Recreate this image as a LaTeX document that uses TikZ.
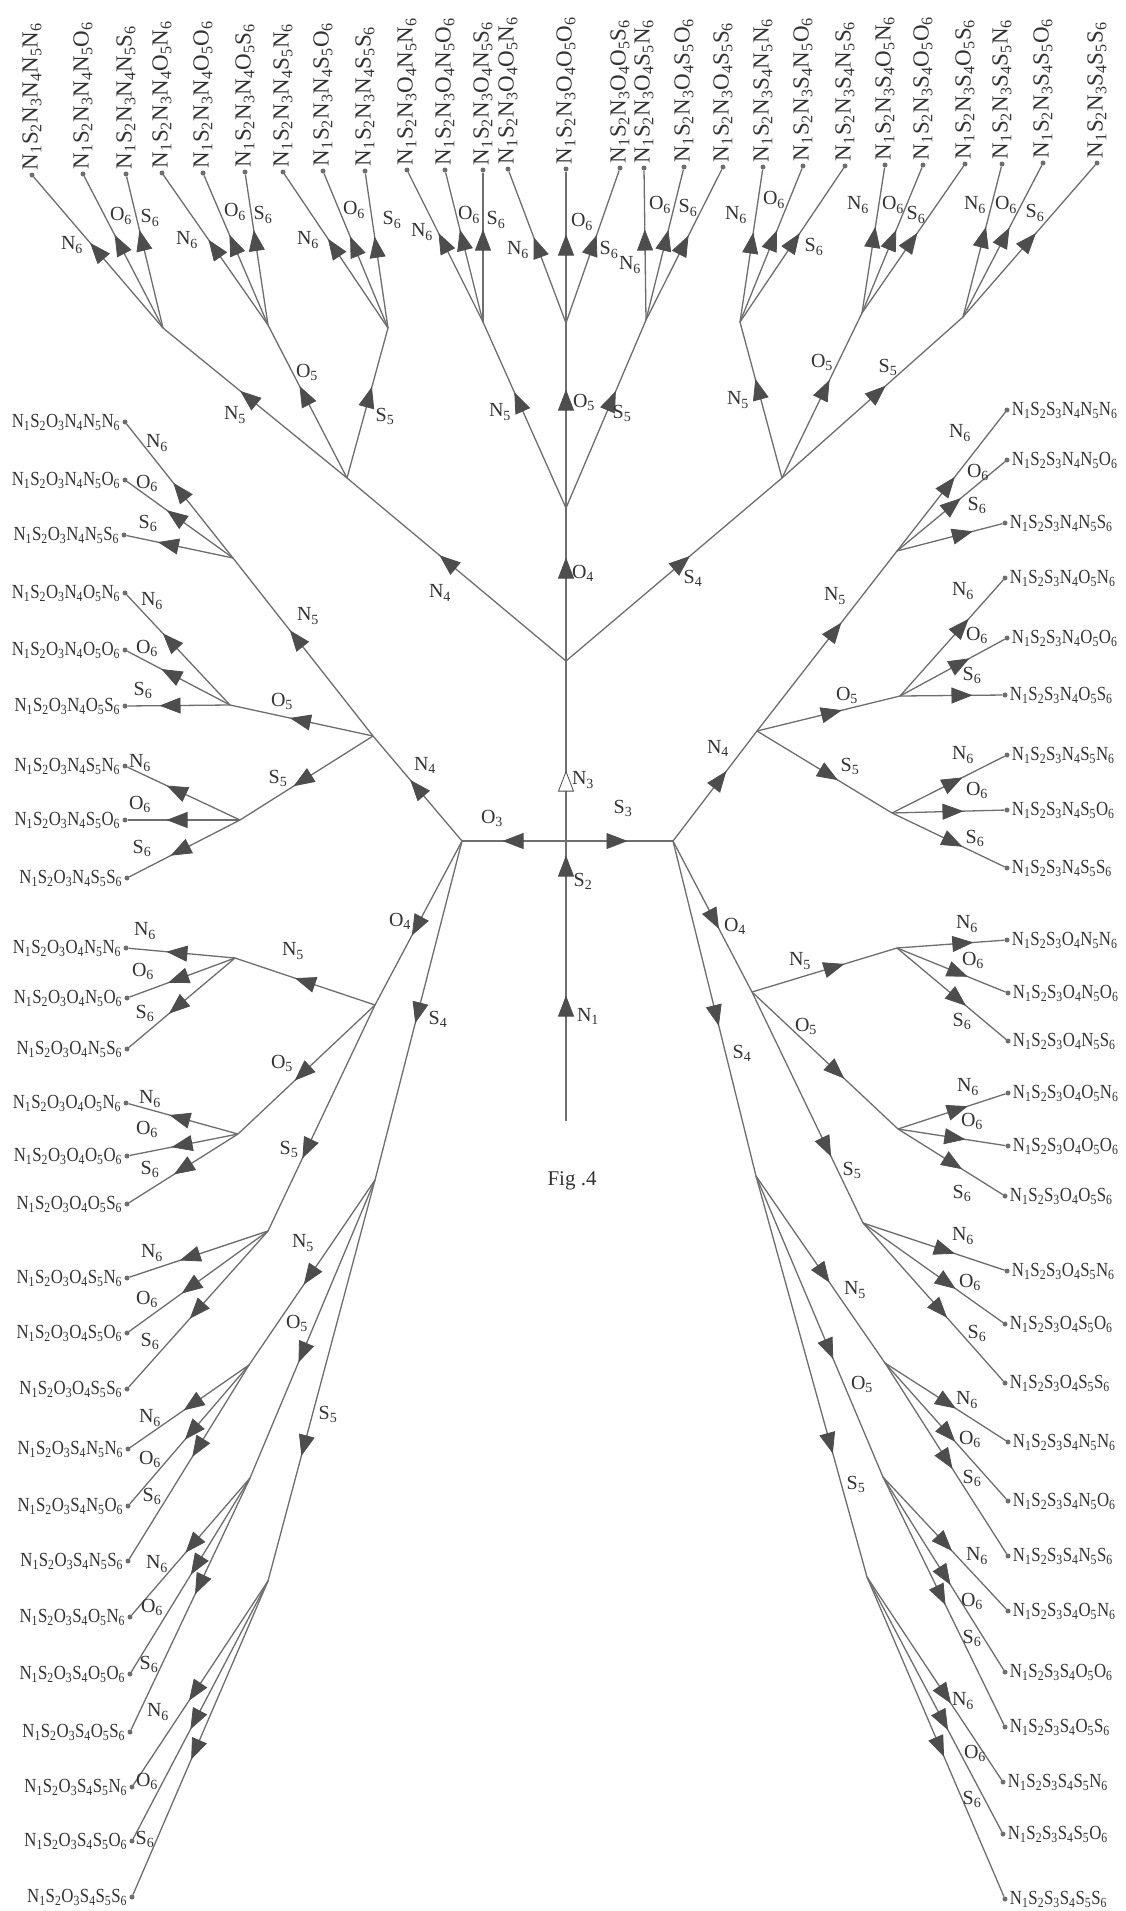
\documentclass[tikz,border=0pt]{standalone}
\usepackage{fontspec}
\setmainfont{Liberation Serif}
\newfontfamily\condfont[FakeStretch=0.84]{Liberation Serif}
\usetikzlibrary{calc,arrows.meta}
\definecolor{linecol}{HTML}{6E6E6E}
\definecolor{arrcol}{HTML}{4D4D4D}
\definecolor{txtcol}{HTML}{333333}
\pgfdeclarelayer{bgfill}
\pgfdeclarelayer{bg}
\pgfsetlayers{bgfill,bg,main}
\newcounter{elb}
\newcommand\seqlab[4]{N\textsubscript{1}S\textsubscript{2}#1\textsubscript{3}#2\textsubscript{4}#3\textsubscript{5}#4\textsubscript{6}}
\newcommand\edg[7][]{%
  \begin{pgfonlayer}{bg}\draw[conn] (#2) -- (#3);\end{pgfonlayer}
  \coordinate (ap) at ($(#2)!(#4)!(#3)$);
  \draw[arrowmark, -{Triangle[length=21pt,width=16pt,#1]}] ($(ap)!10.5pt!(#2)$) -- ($(ap)!-10.5pt!(#2)$);
  \stepcounter{elb}%
  \node[elab] (elab\theelb) at (#7) {#5\textsubscript{#6}};
}
\newcommand\leafT[3]{\node[leafdot] (#1) at (#2) {}; \node[tlab] (#1x) at (#1.north) {\seqlab{N}#3};}
\newcommand\leafL[3]{\node[leafdot] (#1) at (#2) {}; \node[llab] (#1x) at (#1.west) {\seqlab{O}#3};}
\newcommand\leafR[3]{\node[leafdot] (#1) at (#2) {}; \node[rlab] (#1x) at (#1.east) {\seqlab{S}#3};}
\begin{document}
\begin{tikzpicture}[x=1pt,y=-1pt,
  conn/.style={draw=linecol, line width=1.3pt},
  arrowmark/.style={draw=arrcol, line width=0.8pt},
  elab/.style={font=\fontsize{20}{22}\selectfont, text=txtcol, inner sep=0pt},
  leafdot/.style={circle, fill=linecol, inner sep=0pt, minimum size=5pt},
  tlab/.style={rotate=90, anchor=west, font=\fontsize{23}{25}\selectfont, text=txtcol, inner sep=2pt},
  llab/.style={anchor=east, font=\condfont\fontsize{20}{22}\selectfont, text=txtcol, inner sep=2pt},
  rlab/.style={anchor=west, font=\condfont\fontsize{20}{22}\selectfont, text=txtcol, inner sep=2pt}]
\begin{pgfonlayer}{bgfill}
\fill[white] (0,0) rectangle (1126,1911);
\end{pgfonlayer}
\useasboundingbox (0,0) rectangle (1126,1911);

% internal points
\coordinate (r0) at (566,1121);
\coordinate (n1) at (566,940);
\coordinate (cj) at (566,841);
\coordinate (T) at (566,661);
\coordinate (L) at (462,841);
\coordinate (R) at (673,841);
\coordinate (tN) at (347,478);
\coordinate (tO) at (566,508);
\coordinate (tS) at (782,478);
\coordinate (tNN) at (163,328);
\coordinate (tNO) at (268,325);
\coordinate (tNS) at (388,328);
\coordinate (tON) at (483,322);
\coordinate (tOO) at (566,323);
\coordinate (tOS) at (646,320);
\coordinate (tSN) at (740,322);
\coordinate (tSO) at (862,313);
\coordinate (tSS) at (963,317);
\coordinate (lN) at (373,736);
\coordinate (lO) at (375,1005);
\coordinate (lS) at (375,1180);
\coordinate (lNN) at (233,558);
\coordinate (lNO) at (230,705);
\coordinate (lNS) at (240,820);
\coordinate (lON) at (235,958);
\coordinate (lOO) at (238,1134);
\coordinate (lOS) at (268,1231);
\coordinate (lSN) at (249,1365);
\coordinate (lSO) at (250,1478);
\coordinate (lSS) at (268,1581);
\coordinate (rN) at (757,731);
\coordinate (rO) at (752,992);
\coordinate (rS) at (756,1176);
\coordinate (rNN) at (897,551);
\coordinate (rNO) at (900,696);
\coordinate (rNS) at (892,813);
\coordinate (rON) at (897,948);
\coordinate (rOO) at (898,1129);
\coordinate (rOS) at (863,1223);
\coordinate (rSN) at (885,1363);
\coordinate (rSO) at (883,1477);
\coordinate (rSS) at (867,1577);

% top leaves
\leafT{t1}{32,175}{NNN}
\leafT{t2}{83,174}{NNO}
\leafT{t3}{126,174}{NNS}
\leafT{t4}{162,173}{NON}
\leafT{t5}{203,173}{NOO}
\leafT{t6}{245,172}{NOS}
\leafT{t7}{283,172}{NSN}
\leafT{t8}{323,171}{NSO}
\leafT{t9}{365,171}{NSS}
\leafT{t10}{407,170}{ONN}
\leafT{t11}{445,170}{ONO}
\leafT{t12}{483,170}{ONS}
\leafT{t13}{508,169}{OON}
\leafT{t14}{566,169}{OOO}
\leafT{t15}{620,168}{OOS}
\leafT{t16}{644,168}{OSN}
\leafT{t17}{684,167}{OSO}
\leafT{t18}{723,167}{OSS}
\leafT{t19}{763,167}{SNN}
\leafT{t20}{803,166}{SNO}
\leafT{t21}{845,166}{SNS}
\leafT{t22}{885,165}{SON}
\leafT{t23}{923,165}{SOO}
\leafT{t24}{965,164}{SOS}
\leafT{t25}{1002,164}{SSN}
\leafT{t26}{1043,163}{SSO}
\leafT{t27}{1097,163}{SSS}

% left leaves
\leafL{l1}{125,422}{NNN}
\leafL{l2}{125,480}{NNO}
\leafL{l3}{124,535}{NNS}
\leafL{l4}{125,593}{NON}
\leafL{l5}{125,650}{NOO}
\leafL{l6}{125,706}{NOS}
\leafL{l7}{125,766}{NSN}
\leafL{l8}{125,820}{NSO}
\leafL{l9}{127,878}{NSS}
\leafL{l10}{126,948}{ONN}
\leafL{l11}{127,998}{ONO}
\leafL{l12}{127,1049}{ONS}
\leafL{l13}{126,1103}{OON}
\leafL{l14}{127,1156}{OOO}
\leafL{l15}{127,1204}{OOS}
\leafL{l16}{127,1278}{OSN}
\leafL{l17}{127,1333}{OSO}
\leafL{l18}{127,1389}{OSS}
\leafL{l19}{128,1449}{SNN}
\leafL{l20}{128,1506}{SNO}
\leafL{l21}{128,1561}{SNS}
\leafL{l22}{130,1617}{SON}
\leafL{l23}{130,1674}{SOO}
\leafL{l24}{130,1732}{SOS}
\leafL{l25}{132,1787}{SSN}
\leafL{l26}{132,1841}{SSO}
\leafL{l27}{132,1897}{SSS}

% right leaves
\leafR{r1}{1007,410}{NNN}
\leafR{r2}{1007,460}{NNO}
\leafR{r3}{1005,523}{NNS}
\leafR{r4}{1005,578}{NON}
\leafR{r5}{1007,638}{NOO}
\leafR{r6}{1005,695}{NOS}
\leafR{r7}{1007,755}{NSN}
\leafR{r8}{1007,810}{NSO}
\leafR{r9}{1007,868}{NSS}
\leafR{r10}{1007,940}{ONN}
\leafR{r11}{1008,993}{ONO}
\leafR{r12}{1008,1041}{ONS}
\leafR{r13}{1008,1093}{OON}
\leafR{r14}{1008,1146}{OOO}
\leafR{r15}{1005,1196}{OOS}
\leafR{r16}{1007,1271}{OSN}
\leafR{r17}{1005,1324}{OSO}
\leafR{r18}{1005,1383}{OSS}
\leafR{r19}{1008,1442}{SNN}
\leafR{r20}{1008,1501}{SNO}
\leafR{r21}{1008,1556}{SNS}
\leafR{r22}{1008,1611}{SON}
\leafR{r23}{1005,1672}{SOO}
\leafR{r24}{1005,1727}{SOS}
\leafR{r25}{1003,1782}{SSN}
\leafR{r26}{1003,1834}{SSO}
\leafR{r27}{1005,1899}{SSS}

% trunk
\edg{r0}{n1}{566,1006}{N}{1}{588,1016}
\edg{n1}{cj}{566,866}{S}{2}{583,881}
\edg[fill=white]{cj}{T}{566,781}{N}{3}{583,780}
\edg{cj}{L}{513,841}{O}{3}{492,818}
\edg{cj}{R}{617,841}{S}{3}{623,808}

% top subtree
\edg{T}{tN}{445,565}{N}{4}{440,593}
\edg{T}{tO}{566,568}{O}{4}{583,573}
\edg{T}{tS}{682,563}{S}{4}{693,578}
\edg{tN}{tNN}{248,398}{N}{5}{235,415}
\edg{tN}{tNO}{305,395}{O}{5}{307,372}
\edg{tN}{tNS}{369,397}{S}{5}{385,416}
\edg{tO}{tON}{518,402}{N}{5}{500,412}
\edg{tO}{tOO}{566,400}{O}{5}{584,402}
\edg{tO}{tOS}{610,400}{S}{5}{622,413}
\edg{tS}{tSN}{755,390}{N}{5}{738,400}
\edg{tS}{tSO}{822,388}{O}{5}{822,362}
\edg{tS}{tSS}{880,395}{S}{5}{888,367}
\edg{tNN}{t1}{98,250}{N}{6}{72,245}
\edg{tNN}{t2}{122,243}{O}{6}{121,216}
\edg{tNN}{t3}{143,240}{S}{6}{150,218}
\edg{tNO}{t4}{215,248}{N}{6}{187,240}
\edg{tNO}{t5}{237,243}{O}{6}{235,212}
\edg{tNO}{t6}{258,240}{S}{6}{263,215}
\edg{tNS}{t7}{333,248}{N}{6}{308,240}
\edg{tNS}{t8}{357,245}{O}{6}{354,210}
\edg{tNS}{t9}{377,247}{S}{6}{392,220}
\edg{tON}{t10}{444,242}{N}{6}{422,232}
\edg{tON}{t11}{462,240}{O}{6}{469,215}
\edg{tON}{t12}{483,240}{S}{6}{496,220}
\edg{tOO}{t13}{538,247}{N}{6}{518,250}
\edg{tOO}{t14}{566,245}{O}{6}{582,222}
\edg{tOO}{t15}{593,245}{S}{6}{609,250}
\edg{tOS}{t16}{645,240}{N}{6}{630,265}
\edg{tOS}{t17}{665,240}{O}{6}{660,205}
\edg{tOS}{t18}{684,245}{S}{6}{688,208}
\edg{tSN}{t19}{752,243}{N}{6}{736,215}
\edg{tSN}{t20}{773,240}{O}{6}{774,200}
\edg{tSN}{t21}{794,242}{S}{6}{814,247}
\edg{tSO}{t22}{873,237}{N}{6}{858,205}
\edg{tSO}{t23}{893,240}{O}{6}{893,205}
\edg{tSO}{t24}{912,242}{S}{6}{916,215}
\edg{tSS}{t25}{983,237}{N}{6}{975,205}
\edg{tSS}{t26}{1005,237}{O}{6}{1006,205}
\edg{tSS}{t27}{1030,242}{S}{6}{1035,213}

% left subtree
\edg{L}{lN}{417,788}{N}{4}{425,765}
\edg{L}{lO}{420,928}{O}{4}{400,921}
\edg{L}{lS}{418,1013}{S}{4}{438,1019}
\edg{lN}{lNN}{297,638}{N}{5}{308,616}
\edg{lN}{lNO}{300,721}{O}{5}{282,701}
\edg{lN}{lNS}{302,780}{S}{5}{278,778}
\edg{lO}{lON}{305,981}{N}{5}{293,951}
\edg{lO}{lOO}{303,1074}{O}{5}{282,1063}
\edg{lO}{lOS}{307,1149}{S}{5}{289,1149}
\edg{lS}{lSN}{310,1276}{N}{5}{303,1243}
\edg{lS}{lSO}{303,1353}{O}{5}{297,1323}
\edg{lS}{lSS}{305,1446}{S}{5}{328,1414}
\edg{lNN}{l1}{180,491}{N}{6}{157,443}
\edg{lNN}{l2}{175,517}{O}{6}{147,483}
\edg{lNN}{l3}{168,545}{S}{6}{148,523}
\edg{lNO}{l4}{170,641}{N}{6}{152,601}
\edg{lNO}{l5}{170,675}{O}{6}{147,648}
\edg{lNO}{l6}{170,706}{S}{6}{143,690}
\edg{lNS}{l7}{175,793}{N}{6}{140,763}
\edg{lNS}{l8}{177,820}{O}{6}{140,804}
\edg{lNS}{l9}{180,851}{S}{6}{142,848}
\edg{lON}{l10}{177,951}{N}{6}{145,931}
\edg{lON}{l11}{178,979}{O}{6}{143,971}
\edg{lON}{l12}{178,1008}{S}{6}{145,1013}
\edg{lOO}{l13}{180,1116}{N}{6}{150,1099}
\edg{lOO}{l14}{182,1146}{O}{6}{147,1129}
\edg{lOO}{l15}{183,1169}{S}{6}{150,1169}
\edg{lOS}{l16}{190,1258}{N}{6}{152,1253}
\edg{lOS}{l17}{190,1287}{O}{6}{147,1299}
\edg{lOS}{l18}{197,1311}{S}{6}{150,1341}
\edg{lSN}{l19}{192,1404}{N}{6}{150,1418}
\edg{lSN}{l20}{191,1431}{O}{6}{150,1459}
\edg{lSN}{l21}{198,1448}{S}{6}{152,1496}
\edg{lSO}{l22}{195,1547}{N}{6}{157,1564}
\edg{lSO}{l23}{197,1566}{O}{6}{152,1607}
\edg{lSO}{l24}{200,1585}{S}{6}{149,1664}
\edg{lSS}{l25}{195,1692}{N}{6}{158,1712}
\edg{lSS}{l26}{197,1721}{O}{6}{147,1781}
\edg{lSS}{l27}{198,1751}{S}{6}{145,1839}

% right subtree
\edg{R}{rN}{718,778}{N}{4}{718,748}
\edg{R}{rO}{717,918}{O}{4}{735,926}
\edg{R}{rS}{715,1016}{S}{4}{742,1053}
\edg{rN}{rNN}{835,631}{N}{5}{835,596}
\edg{rN}{rNO}{833,718}{O}{5}{847,695}
\edg{rN}{rNS}{830,773}{S}{5}{850,766}
\edg{rO}{rON}{835,969}{N}{5}{800,961}
\edg{rO}{rOO}{835,1073}{O}{5}{806,1026}
\edg{rO}{rOS}{825,1148}{S}{5}{852,1170}
\edg{rS}{rSN}{828,1271}{N}{5}{855,1290}
\edg{rS}{rSO}{830,1349}{O}{5}{862,1384}
\edg{rS}{rSS}{828,1444}{S}{5}{856,1484}
\edg{rNN}{r1}{948,485}{N}{6}{960,433}
\edg{rNN}{r2}{953,505}{O}{6}{978,472}
\edg{rNN}{r3}{963,535}{S}{6}{977,505}
\edg{rNO}{r4}{962,627}{N}{6}{963,591}
\edg{rNO}{r5}{960,663}{O}{6}{977,635}
\edg{rNO}{r6}{962,696}{S}{6}{972,675}
\edg{rNS}{r7}{953,782}{N}{6}{963,755}
\edg{rNS}{r8}{953,811}{O}{6}{977,790}
\edg{rNS}{r9}{953,842}{S}{6}{975,838}
\edg{rON}{r10}{963,945}{N}{6}{967,924}
\edg{rON}{r11}{958,973}{O}{6}{973,960}
\edg{rON}{r12}{958,999}{S}{6}{962,1021}
\edg{rOO}{r13}{958,1110}{N}{6}{968,1087}
\edg{rOO}{r14}{955,1138}{O}{6}{972,1121}
\edg{rOO}{r15}{953,1164}{S}{6}{962,1193}
\edg{rOS}{r16}{945,1250}{N}{6}{963,1236}
\edg{rOS}{r17}{947,1283}{O}{6}{970,1282}
\edg{rOS}{r18}{940,1310}{S}{6}{977,1333}
\edg{rSN}{r19}{947,1403}{N}{6}{967,1400}
\edg{rSN}{r20}{948,1434}{O}{6}{970,1439}
\edg{rSN}{r21}{947,1460}{S}{6}{972,1478}
\edg{rSO}{r22}{945,1543}{N}{6}{977,1556}
\edg{rSO}{r23}{945,1576}{O}{6}{972,1601}
\edg{rSO}{r24}{940,1596}{S}{6}{972,1638}
\edg{rSS}{r25}{945,1695}{N}{6}{963,1701}
\edg{rSS}{r26}{943,1721}{O}{6}{975,1753}
\edg{rSS}{r27}{940,1747}{S}{6}{972,1799}

\node[font=\fontsize{21}{24}\selectfont, text=txtcol] (fig) at (572,1181) {Fig .4};
\end{tikzpicture}
\end{document}
